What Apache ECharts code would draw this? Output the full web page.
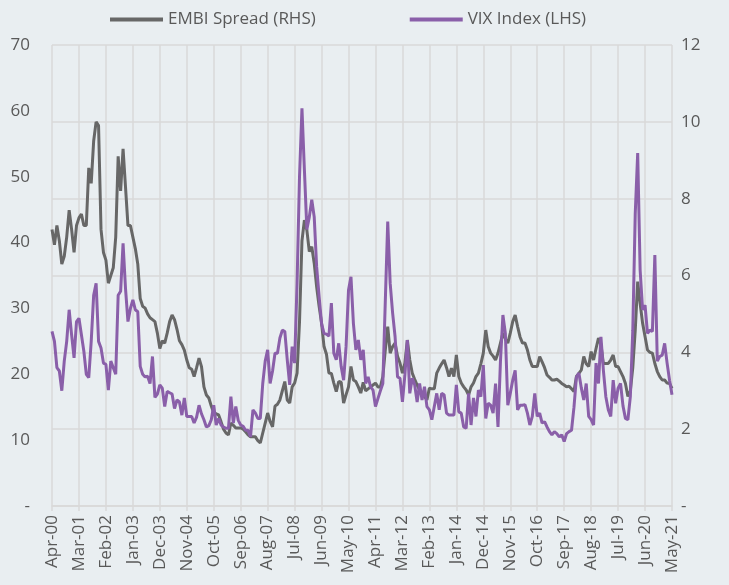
<!DOCTYPE html>
<html>
<head>
<meta charset="utf-8">
<script src="https://cdn.jsdelivr.net/npm/echarts@6/dist/echarts.min.js"></script>
<style>
html,body{margin:0;padding:0;background:#e9eef1;}
#chart{width:729px;height:585px;}
</style>
</head>
<body>
<div id="chart"></div>
<script>
// Monthly categories Apr-00 .. May-21
var monthNames = ['Jan','Feb','Mar','Apr','May','Jun','Jul','Aug','Sep','Oct','Nov','Dec'];
var startYear = 2000, startMonth = 3, monthCount = 254;
var categories = [];
for (var i = 0; i < monthCount; i++) {
  var m = (startMonth + i) % 12;
  var y = startYear + Math.floor((startMonth + i) / 12);
  categories.push(monthNames[m] + '-' + String(y % 100).padStart(2, '0'));
}

// EMBI Spread (RHS), percentage points
var embiSpread = [
 7.2,6.8,7.3,6.9,6.3,6.5,7.0,7.7,7.2,6.6,
 7.3,7.5,7.6,7.3,7.3,8.8,8.4,9.5,10.0,9.9,
 7.2,6.6,6.4,5.8,6.0,6.2,7.0,9.1,8.2,9.3,
 8.3,7.3,7.3,7.0,6.7,6.3,5.4,5.2,5.15,5.0,
 4.9,4.85,4.8,4.5,4.1,4.3,4.24,4.5,4.8,4.97,
 4.85,4.6,4.3,4.2,4.06,3.8,3.6,3.56,3.37,3.6,
 3.85,3.63,3.1,2.89,2.81,2.6,2.42,2.4,2.37,2.19,
 2.0,1.9,1.85,2.16,2.1,2.03,2.03,2.03,2.0,1.93,
 1.85,1.8,1.8,1.8,1.7,1.64,1.9,2.16,2.42,2.2,
 2.06,2.6,2.65,2.76,3.0,3.24,2.76,2.68,3.1,3.2,
 3.46,4.8,6.9,7.44,7.18,6.62,6.75,6.32,5.7,5.2,
 4.76,4.15,3.95,3.46,3.45,3.2,2.98,3.24,3.22,2.68,
 2.9,3.1,3.63,3.28,3.24,3.1,2.94,3.22,3.0,3.05,
 3.1,3.15,3.2,3.1,3.1,3.37,4.06,4.67,3.98,4.15,
 4.24,3.9,3.72,3.46,3.72,4.32,3.8,3.46,3.3,3.15,
 3.02,2.94,2.85,2.76,3.07,3.05,3.05,3.46,3.59,3.7,
 3.8,3.6,3.37,3.59,3.37,3.93,3.37,3.2,3.1,3.02,
 2.89,3.1,3.2,3.37,3.46,3.7,3.98,4.58,4.15,3.98,
 3.9,3.8,3.98,4.24,4.5,4.35,4.24,4.5,4.8,4.97,
 4.67,4.4,4.24,4.24,4.06,3.8,3.63,3.63,3.63,3.89,
 3.75,3.6,3.41,3.35,3.28,3.28,3.3,3.25,3.19,3.15,
 3.1,3.12,3.05,2.98,3.37,3.45,3.54,3.89,3.7,3.63,
 4.02,3.8,4.1,4.37,4.2,3.71,3.71,3.71,3.8,3.93,
 3.63,3.63,3.5,3.37,3.19,2.85,3.0,3.6,4.58,5.84,
 5.27,4.76,4.41,4.06,4.0,3.98,3.71,3.5,3.37,3.28,
 3.28,3.2,3.19,3.06
];

// VIX Index (LHS)
var vixIndex = [
 26.5,25,21,20.5,17.5,22,25,29.8,26,22.5,
 28,28.5,26,23.5,20,19.5,25,32,33.8,25,
 24,21.7,21.5,17.6,22,21,20,32,32.6,39.9,
 33,28,30,31.3,29.8,29.5,21.2,20,19.6,19.7,
 18.6,22.7,16.5,17,18.4,17.9,15.1,17.4,17.2,17,
 14.8,16.1,15.8,13.8,16.4,13.6,13.6,13.6,12.6,13.5,
 15.3,14,13.1,12,12.2,13.1,15.3,12.3,13.3,12.3,
 12,11.8,11.8,16.6,12.6,15.1,13,12.3,12.1,11.5,
 11.5,10.5,14.6,14.1,13.3,13.3,18.6,22,23.7,18.6,
 20.5,23.2,23.2,25.5,26.7,26.5,22.2,18.4,24.2,21.7,
 33.8,50,60.4,51,42,43.9,46.5,43.9,36.3,31.8,
 27.7,26.2,26.1,25.8,30.8,23.2,22.2,24.7,21.2,19.1,
 24.2,32.8,34.8,27.7,23.7,25.2,22.2,23.7,18.6,19.6,
 18.1,17.6,15.1,16.3,17.5,18.6,31,43.2,33.8,29.3,
 25.7,19.6,19.4,15.8,19.9,25.2,17.1,19.4,18.4,15.8,
 18.6,16.1,18.1,15.1,14.6,13.1,15.1,17.1,14.6,17.1,
 16.9,14.1,13.8,13.8,13.8,18.4,14.3,14.1,12,11.8,
 17.1,12.3,16.4,13.6,17.6,16.6,21.4,13.3,15.6,15.3,
 14.1,18.6,12,22,29,26.2,15.3,17.1,19.1,20.6,
 14.6,15.3,15.3,15.4,14.1,12.3,13.6,17.1,13.6,14.1,
 12.6,12.8,12,11.3,10.8,11.3,11,10.5,10.8,9.8,
 11,11.3,11.5,15,19.6,20.2,17.9,16.1,18.6,13.6,
 13.1,12.3,21.7,18.6,25.7,20.6,16.6,14.6,13.6,19.1,
 15.6,17.9,18.6,15.2,13.3,13.1,16.6,26.7,44.4,53.6,
 35.8,29.8,30.5,26.2,26.7,26.5,38.1,22,22.7,22.9,
 24.7,21.7,19.1,16.9
];

var leftTicks = {min: 0, max: 70, interval: 10};
var rightTicks = {min: 0, max: 12, interval: 2};
var labelStep = 11;

var textColor = '#595959';
var gridColor = '#d9d9d9';
var fontFam = '"Open Sans", "Noto Sans", sans-serif';
function dashZero(v){ return v === 0 ? '-' : String(v); }
function every(i){ return i % labelStep === 0; }

var chart = echarts.init(document.getElementById('chart'), null, {renderer: 'canvas'});
chart.setOption({
  backgroundColor: '#e9eef1',
  animation: false,
  legend: {
    top: 6,
    left: 105,
    itemGap: 94,
    itemWidth: 53,
    itemHeight: 4,
    textStyle: {color: textColor, fontSize: 17, fontFamily: fontFam},
    data: [
      {name: 'EMBI Spread (RHS)', icon: 'rect'},
      {name: 'VIX Index (LHS)', icon: 'rect'}
    ]
  },
  grid: {left: 52, right: 57, top: 45, bottom: 79, containLabel: false},
  xAxis: {
    type: 'category',
    data: categories,
    boundaryGap: false,
    axisLine: {lineStyle: {color: gridColor, width: 1.5}},
    axisTick: {show: true, interval: function(i){return every(i);}, length: 5, lineStyle: {color: gridColor, width: 1.5}},
    splitLine: {show: true, interval: function(i){return every(i);}, lineStyle: {color: gridColor, width: 1.5}},
    axisLabel: {
      interval: function(i){return every(i);},
      rotate: 90,
      color: textColor,
      fontSize: 17,
      fontFamily: fontFam,
      margin: 9
    }
  },
  yAxis: [
    {
      type: 'value',
      min: leftTicks.min, max: leftTicks.max, interval: leftTicks.interval,
      position: 'left',
      axisLine: {show: false},
      axisTick: {show: false},
      splitLine: {show: false},
      axisLabel: {color: textColor, fontSize: 17, fontFamily: fontFam, margin: 22, formatter: dashZero}
    },
    {
      type: 'value',
      min: rightTicks.min, max: rightTicks.max, interval: rightTicks.interval,
      position: 'right',
      axisLine: {show: false},
      axisTick: {show: false},
      splitLine: {show: true, lineStyle: {color: gridColor, width: 1.5}},
      axisLabel: {color: textColor, fontSize: 17, fontFamily: fontFam, margin: 9, formatter: dashZero}
    }
  ],
  series: [
    {
      name: 'EMBI Spread (RHS)',
      type: 'line',
      yAxisIndex: 1,
      data: embiSpread,
      showSymbol: false,
      color: '#676767',
      lineStyle: {color: '#676767', width: 3}
    },
    {
      name: 'VIX Index (LHS)',
      type: 'line',
      yAxisIndex: 0,
      data: vixIndex,
      showSymbol: false,
      color: '#8a5fa9',
      lineStyle: {color: '#8a5fa9', width: 3}
    }
  ]
});
</script>
</body>
</html>
